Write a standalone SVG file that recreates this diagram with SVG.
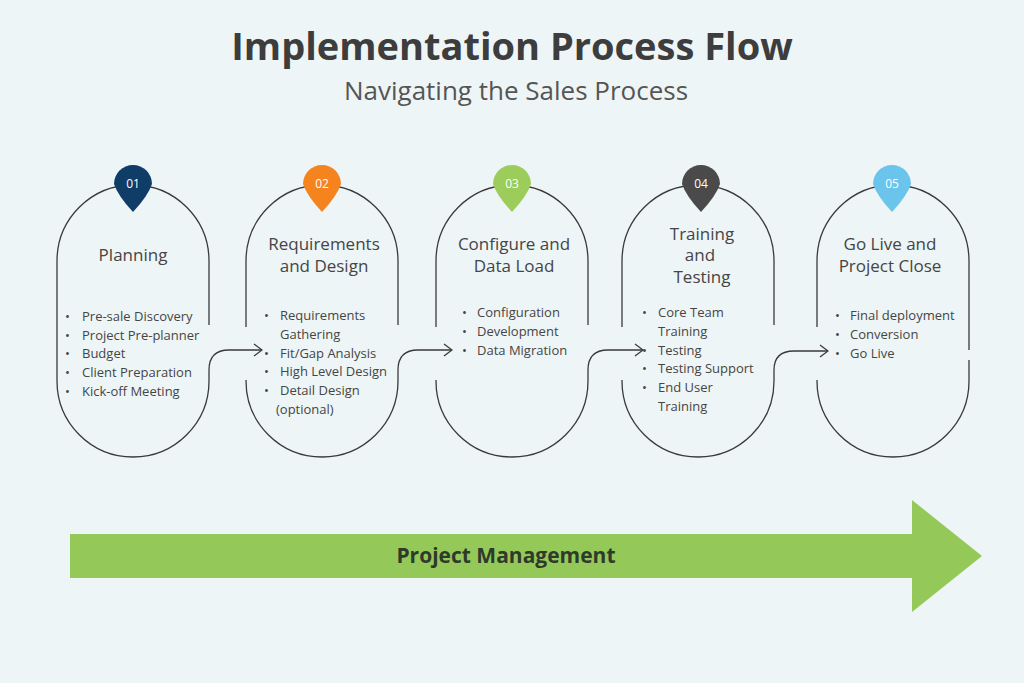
<svg xmlns="http://www.w3.org/2000/svg" width="1024" height="683" viewBox="0 0 1024 683">
<style>
.cap{fill:none;stroke:#3a3a3a;stroke-width:1.3}
.con{fill:none;stroke:#3a3a3a;stroke-width:1.3}
.h{font-family:"Open Sans","Liberation Sans",sans-serif;font-size:17px;fill:#454545;text-anchor:middle}
.b{font-family:"Open Sans","Liberation Sans",sans-serif;font-size:13px;fill:#454545}
.n{font-family:"Open Sans","Liberation Sans",sans-serif;font-size:12px;fill:#fff;text-anchor:middle}
</style>
<defs>
<marker id="ah" markerWidth="10" markerHeight="14" refX="9" refY="7" orient="auto" markerUnits="userSpaceOnUse"><path d="M1,1 L9,7 L1,13" fill="none" stroke="#3a3a3a" stroke-width="1.3"/></marker>
</defs>
<rect width="1024" height="683" fill="#eef5f6"/>
<text x="512" y="60" text-anchor="middle" font-family="'Open Sans','Liberation Sans',sans-serif" font-weight="bold" font-size="38" fill="#3d3d3d">Implementation Process Flow</text>
<text x="516" y="100" text-anchor="middle" font-family="'Open Sans','Liberation Sans',sans-serif" font-size="26" fill="#555">Navigating the Sales Process</text>

<g id="n1">
<path class="cap" d="M209,325 V261 A76,76 0 0 0 57,261 V381 A76,76 0 0 0 209,381 V370"/>
<path d="M114,184 A19,19 0 1 1 152,184 Q148,196 133,212 Q118,196 114,184Z" fill="#0f3d68"/>
<text class="n" x="133" y="188">01</text>
<text class="h" x="133" y="261">Planning</text>
<text class="b" x="65" y="321">•<tspan x="82">Pre-sale Discovery</tspan></text>
<text class="b" x="65" y="340">•<tspan x="82">Project Pre-planner</tspan></text>
<text class="b" x="65" y="358">•<tspan x="82">Budget</tspan></text>
<text class="b" x="65" y="377">•<tspan x="82">Client Preparation</tspan></text>
<text class="b" x="65" y="396">•<tspan x="82">Kick-off Meeting</tspan></text>
</g>
<g id="n2">
<path class="cap" d="M246,327 V261 A76,76 0 0 1 398,261 V325 M398,370 V381 A76,76 0 0 1 246,381 V380"/>
<path d="M303,184 A19,19 0 1 1 341,184 Q337,196 322,212 Q307,196 303,184Z" fill="#f5841f"/>
<text class="n" x="322" y="188">02</text>
<text class="h" x="324" y="250">Requirements</text>
<text class="h" x="324" y="272">and Design</text>
<text class="b" x="264" y="320">•<tspan x="280">Requirements</tspan></text>
<text class="b" x="280" y="339">Gathering</text>
<text class="b" x="264" y="358">•<tspan x="280">Fit/Gap Analysis</tspan></text>
<text class="b" x="264" y="376">•<tspan x="280">High Level Design</tspan></text>
<text class="b" x="264" y="395">•<tspan x="280">Detail Design</tspan></text>
<text class="b" x="276" y="414">(optional)</text>
</g>
<g id="n3">
<path class="cap" d="M436,327 V261 A76,76 0 0 1 588,261 V325 M588,370 V381 A76,76 0 0 1 436,381 V380"/>
<path d="M493,184 A19,19 0 1 1 531,184 Q527,196 512,212 Q497,196 493,184Z" fill="#9ccc5a"/>
<text class="n" x="512" y="188">03</text>
<text class="h" x="514" y="250">Configure and</text>
<text class="h" x="514" y="272">Data Load</text>
<text class="b" x="462" y="317">•<tspan x="477">Configuration</tspan></text>
<text class="b" x="462" y="336">•<tspan x="477">Development</tspan></text>
<text class="b" x="462" y="355">•<tspan x="477">Data Migration</tspan></text>
</g>
<g id="n4">
<path class="cap" d="M622,327 V261 A76,76 0 0 1 774,261 V325 M774,370 V381 A76,76 0 0 1 622,381 V380"/>
<path d="M682,184 A19,19 0 1 1 720,184 Q716,196 701,212 Q686,196 682,184Z" fill="#4a4a4a"/>
<text class="n" x="701" y="188">04</text>
<text class="h" x="702" y="240">Training</text>
<text class="h" x="700" y="261">and</text>
<text class="h" x="702" y="283">Testing</text>
<text class="b" x="642" y="317">•<tspan x="658">Core Team</tspan></text>
<text class="b" x="658" y="336">Training</text>
<text class="b" x="642" y="355">•<tspan x="658">Testing</tspan></text>
<text class="b" x="642" y="373">•<tspan x="658">Testing Support</tspan></text>
<text class="b" x="642" y="392">•<tspan x="658">End User</tspan></text>
<text class="b" x="658" y="411">Training</text>
</g>
<g id="n5">
<path class="cap" d="M817,327 V261 A76,76 0 0 1 969,261 V350 M969,360 V381 A76,76 0 0 1 817,381 V380"/>
<path d="M873,184 A19,19 0 1 1 911,184 Q907,196 892,212 Q877,196 873,184Z" fill="#6ac4ec"/>
<text class="n" x="892" y="188">05</text>
<text class="h" x="890" y="250">Go Live and</text>
<text class="h" x="890" y="272">Project Close</text>
<text class="b" x="835" y="320">•<tspan x="850">Final deployment</tspan></text>
<text class="b" x="835" y="339">•<tspan x="850">Conversion</tspan></text>
<text class="b" x="835" y="358">•<tspan x="850">Go Live</tspan></text>
</g>
<g id="connectors">
<path class="con" marker-end="url(#ah)" d="M209,370 Q209,350 229,350 H262"/>
<path class="con" marker-end="url(#ah)" d="M398,370 Q398,350 418,350 H452"/>
<path class="con" marker-end="url(#ah)" d="M588,370 Q588,350 608,350 H643"/>
<path class="con" marker-end="url(#ah)" d="M774,370 Q774,351 794,351 H828"/>
</g>
<g id="pm">
<path d="M70,534 H912 V500 L982,556 L912,612 V578 H70Z" fill="#94c95a"/>
<text x="506" y="563" text-anchor="middle" font-family="'Open Sans','Liberation Sans',sans-serif" font-weight="bold" font-size="21" fill="#2f3a2a">Project Management</text>
</g>
</svg>
